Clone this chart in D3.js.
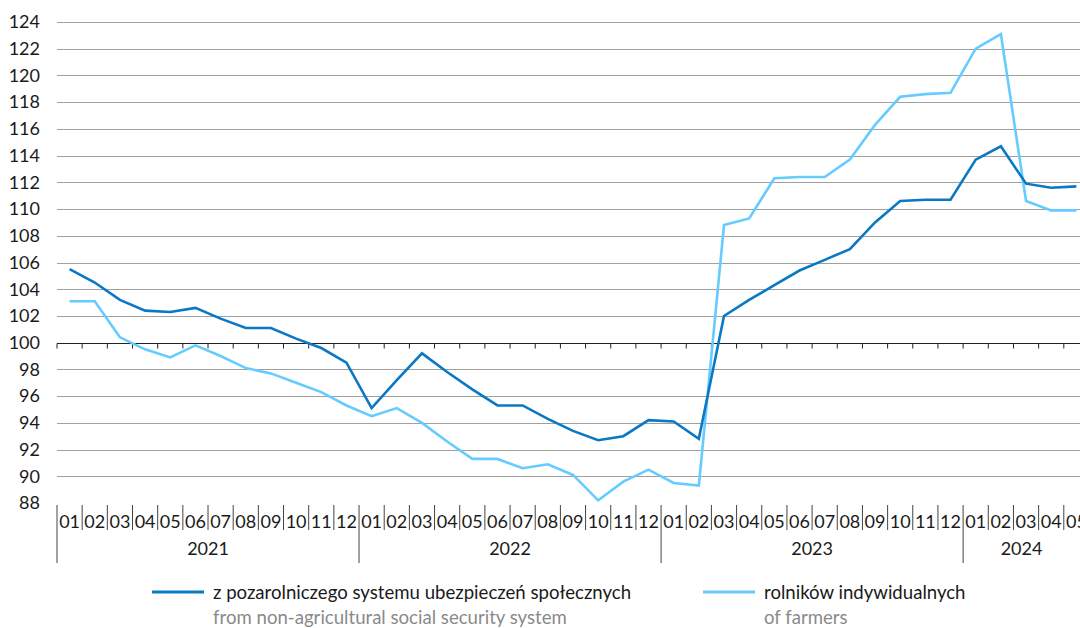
<!DOCTYPE html>
<html>
<head>
<meta charset="utf-8">
<script src="https://cdn.jsdelivr.net/npm/d3@7"></script>
<style>
  body { margin: 0; background: #fff; }
  svg { display: block; font-family: "Lato", "Liberation Sans", sans-serif; }
</style>
</head>
<body>
<svg id="chart" width="1080" height="628"></svg>
<script>
// months Jan 2021 .. May 2024
const years = [2021, 2022, 2023, 2024];
const monthLabels = ["01","02","03","04","05","06","07","08","09","10","11","12"];
const yTicks = [88,90,92,94,96,98,100,102,104,106,108,110,112,114,116,118,120,122,124];

// z pozarolniczego systemu ubezpieczeń społecznych
const nonAgri = [
  105.5, 104.5, 103.2, 102.4, 102.3, 102.6, 101.8, 101.1, 101.1, 100.3, 99.6, 98.5,
  95.1, 97.2, 99.2, 97.8, 96.5, 95.3, 95.3, 94.3, 93.4, 92.7, 93.0, 94.2,
  94.1, 92.8, 102.0, 103.2, 104.3, 105.4, 106.2, 107.0, 109.0, 110.6, 110.7, 110.7,
  113.7, 114.7, 111.9, 111.6, 111.7
];
// rolników indywidualnych
const farmers = [
  103.1, 103.1, 100.4, 99.5, 98.9, 99.8, 99.0, 98.1, 97.7, 97.0, 96.3, 95.3,
  94.5, 95.1, 94.0, 92.6, 91.3, 91.3, 90.6, 90.9, 90.1, 88.2, 89.6, 90.5,
  89.5, 89.3, 108.8, 109.3, 112.3, 112.4, 112.4, 113.7, 116.3, 118.4, 118.6, 118.7,
  122.0, 123.1, 110.6, 109.9, 109.9
];

const nMonths = nonAgri.length;
const periods = d3.range(nMonths).map(i => ({
  i: i,
  year: years[Math.floor(i / 12)],
  month: monthLabels[i % 12]
}));

const svg = d3.select("#chart");
const left = 57, step = 25.17;
const x = d3.scaleLinear().domain([0, nMonths]).range([left, left + nMonths * step]);
const y = d3.scaleLinear().domain([88, 124]).range([503, 22]);

// gridlines
svg.append("g")
  .selectAll("line")
  .data(yTicks.filter(d => d !== 88 && d !== 100))
  .join("line")
  .attr("x1", left).attr("x2", 1080)
  .attr("y1", d => Math.round(y(d)) + 0.5).attr("y2", d => Math.round(y(d)) + 0.5)
  .attr("stroke", "#a0a0a0").attr("stroke-width", 1.2);

// y labels
svg.append("g")
  .selectAll("text")
  .data(yTicks)
  .join("text")
  .attr("x", 40).attr("y", d => y(d))
  .attr("dy", "0.35em")
  .attr("text-anchor", "end")
  .attr("font-size", 18)
  .attr("fill", "#1a1a1a")
  .text(d => d);

// axis at 100
const y100 = Math.round(y(100)) + 0.5;
svg.append("line")
  .attr("x1", left).attr("x2", 1080).attr("y1", y100).attr("y2", y100)
  .attr("stroke", "#222").attr("stroke-width", 1);
svg.append("g")
  .selectAll("line")
  .data(d3.range(nMonths + 1))
  .join("line")
  .attr("x1", d => x(d)).attr("x2", d => x(d))
  .attr("y1", y100).attr("y2", y100 + 5)
  .attr("stroke", "#222").attr("stroke-width", 1);

// category axis band
const band = svg.append("g");
band.selectAll("line")
  .data(d3.range(nMonths + 1))
  .join("line")
  .attr("x1", d => x(d)).attr("x2", d => x(d))
  .attr("y1", 505)
  .attr("y2", d => d % 12 === 0 ? 563 : 530)
  .attr("stroke", "#444").attr("stroke-width", 1);
band.selectAll("text.m")
  .data(periods)
  .join("text")
  .attr("class", "m")
  .attr("x", d => x(d.i + 0.5)).attr("y", 522)
  .attr("dy", "0.35em")
  .attr("text-anchor", "middle")
  .attr("font-size", 18)
  .attr("fill", "#1a1a1a")
  .text(d => d.month);
band.selectAll("text.yr")
  .data(years)
  .join("text")
  .attr("class", "yr")
  .attr("x", (d, k) => {
    const a = k * 12, b = Math.min(k * 12 + 12, nMonths);
    return (x(a) + Math.min(x(b), 1080)) / 2;
  })
  .attr("y", 549)
  .attr("dy", "0.35em")
  .attr("text-anchor", "middle")
  .attr("font-size", 18)
  .attr("fill", "#1a1a1a")
  .text(d => d);

// lines
const line = d3.line().x((d, i) => x(i + 0.5)).y(d => y(d));
svg.append("path").datum(farmers)
  .attr("d", line).attr("fill", "none")
  .attr("stroke", "#66ccff").attr("stroke-width", 2.6).attr("stroke-linejoin", "miter");
svg.append("path").datum(nonAgri)
  .attr("d", line).attr("fill", "none")
  .attr("stroke", "#0a78c4").attr("stroke-width", 2.6).attr("stroke-linejoin", "miter");

// legend
const legend = [
  { x: 152, color: "#0a78c4", pl: "z pozarolniczego systemu ubezpieczeń społecznych", en: "from non-agricultural social security system" },
  { x: 703, color: "#66ccff", pl: "rolników indywidualnych", en: "of farmers" }
];
const lg = svg.append("g").selectAll("g").data(legend).join("g");
lg.append("line")
  .attr("x1", d => d.x).attr("x2", d => d.x + 52)
  .attr("y1", 592).attr("y2", 592)
  .attr("stroke", d => d.color).attr("stroke-width", 3);
lg.append("text")
  .attr("x", d => d.x + 61).attr("y", 592).attr("dy", "0.35em")
  .attr("font-size", 18.6).attr("fill", "#1a1a1a")
  .text(d => d.pl);
lg.append("text")
  .attr("x", d => d.x + 61).attr("y", 617).attr("dy", "0.35em")
  .attr("font-size", 18.6).attr("fill", "#8a8a8a")
  .text(d => d.en);
</script>
</body>
</html>
